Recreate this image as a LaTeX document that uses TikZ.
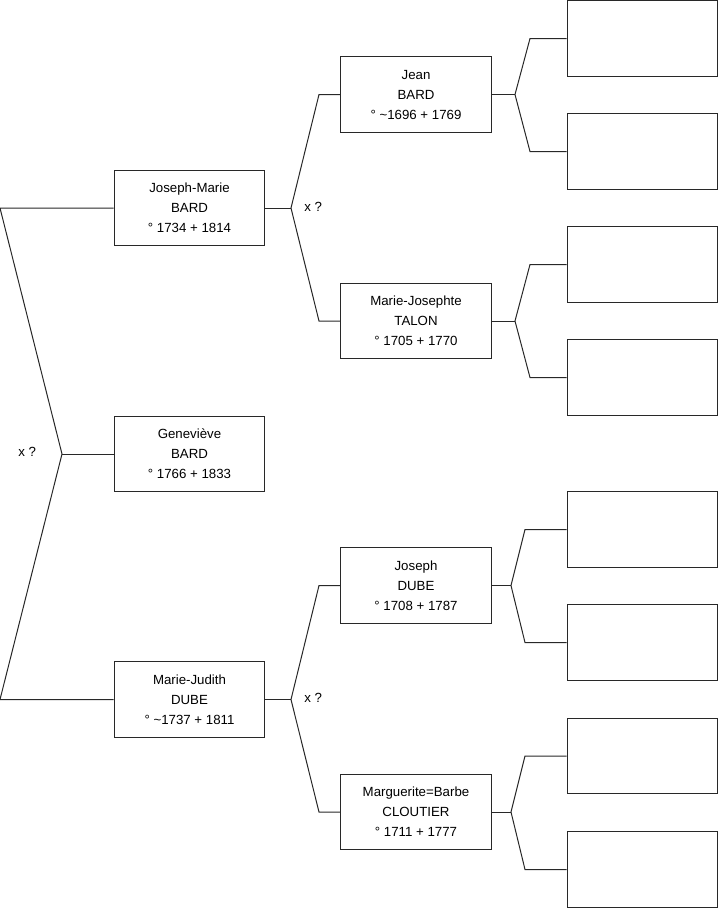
\documentclass[tikz,border=0pt]{standalone}
\usepackage{fontspec}
\setmainfont{Liberation Sans}
\usepackage{tikz}
\usetikzlibrary{calc}
\definecolor{ink}{RGB}{40,40,40}

\begin{document}
\begin{tikzpicture}[
      x=0.75pt,y=-0.75pt,
      font=\fontsize{9.95}{15}\selectfont,
      person/.style={draw=ink,line width=0.8pt,minimum width=113pt,minimum height=56.5pt,
                     align=center,inner sep=2pt},
      slot/.style={person},
      ln/.style={draw=ink,line width=0.75pt},
      union/.style={anchor=west,inner sep=0pt}]
      \useasboundingbox (0,0) rectangle (719,908);
      % generation 1 and 2
      \node[person] (gen) at (189.5,454) {Geneviève\\BARD\\° 1766 + 1833};
      \node[person] (jm) at (189.5,208) {Joseph-Marie\\BARD\\° 1734 + 1814};
      \node[person] (mj) at (189.5,699.5) {Marie-Judith\\DUBE\\° \textasciitilde1737 + 1811};
      % generation 3
      \node[person] (jean) at (416,94.5) {Jean\\BARD\\° \textasciitilde1696 + 1769};
      \node[person] (mjo) at (416,321) {Marie-Josephte\\TALON\\° 1705 + 1770};
      \node[person] (jos) at (416,585.5) {Joseph\\DUBE\\° 1708 + 1787};
      \node[person] (mgb) at (416,812) {Marguerite=Barbe\\CLOUTIER\\° 1711 + 1777};
      % generation 4 (empty)
      \node[slot] (s1) at (642.5,38.5) {};
      \node[slot] (s2) at (642.5,151.5) {};
      \node[slot] (s3) at (642.5,264.5) {};
      \node[slot] (s4) at (642.5,377.5) {};
      \node[slot] (s5) at (642.5,529.5) {};
      \node[slot] (s6) at (642.5,642.5) {};
      \node[slot] (s7) at (642.5,756) {};
      \node[slot] (s8) at (642.5,869.5) {};
      % forks
      \coordinate (f0) at (62,454);
      \coordinate (t0) at (0,208); \coordinate (b0) at (0,699.5);
      \coordinate (f1) at (291,208);
      \coordinate (t1) at (319,94.5); \coordinate (b1) at (319,321);
      \coordinate (f2) at (291,699.5);
      \coordinate (t2) at (319,585.5); \coordinate (b2) at (319,812);
      \coordinate (f3) at (515,94.5);
      \coordinate (t3) at (530,38.5); \coordinate (b3) at (530,151.5);
      \coordinate (f4) at (515,321);
      \coordinate (t4) at (530,264.5); \coordinate (b4) at (530,377.5);
      \coordinate (f5) at (511,585.5);
      \coordinate (t5) at (525,529.5); \coordinate (b5) at (525,642.5);
      \coordinate (f6) at (511,812);
      \coordinate (t6) at (525,756); \coordinate (b6) at (525,869.5);
      \draw[ln] (jm.west) -- (t0) -- (f0) -- (b0) -- (mj.west); \draw[ln] (f0) -- (gen.west);
      \draw[ln] (jm.east) -- (f1); \draw[ln] (jean.west) -- (t1) -- (f1) -- (b1) -- (mjo.west);
      \draw[ln] (mj.east) -- (f2); \draw[ln] (jos.west) -- (t2) -- (f2) -- (b2) -- (mgb.west);
      \draw[ln] (jean.east) -- (f3); \draw[ln] (s1.west) -- (t3) -- (f3) -- (b3) -- (s2.west);
      \draw[ln] (mjo.east) -- (f4); \draw[ln] (s3.west) -- (t4) -- (f4) -- (b4) -- (s4.west);
      \draw[ln] (jos.east) -- (f5); \draw[ln] (s5.west) -- (t5) -- (f5) -- (b5) -- (s6.west);
      \draw[ln] (mgb.east) -- (f6); \draw[ln] (s7.west) -- (t6) -- (f6) -- (b6) -- (s8.west);
      \node[union] (x0) at (18,452) {x ?};
      \node[union] (x1) at (304,207) {x ?};
      \node[union] (x2) at (304,698) {x ?};
    \end{tikzpicture}
\end{document}
